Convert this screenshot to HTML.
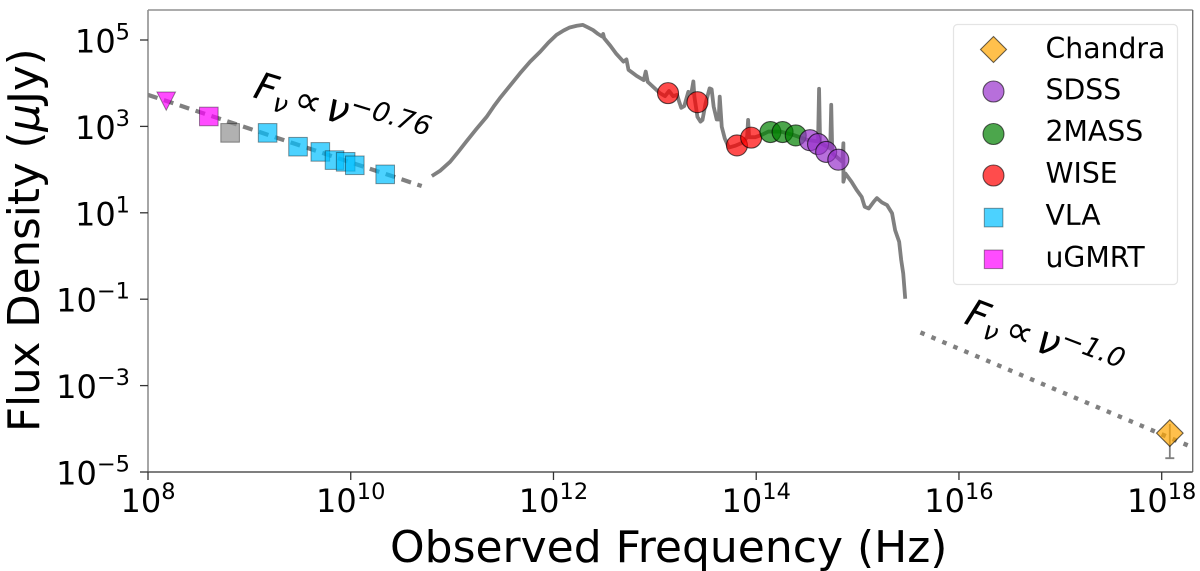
<!DOCTYPE html>
<html lang="en">
<head>
<meta charset="utf-8">
<title>Spectral energy distribution</title>
<style>
html,body{margin:0;padding:0;background:#fff;width:1200px;height:571px;overflow:hidden}
svg{display:block;font-family:"DejaVu Sans","Liberation Sans",sans-serif}
</style>
</head>
<body>
<svg id="chart" xmlns="http://www.w3.org/2000/svg" width="1200" height="571" viewBox="0 0 1200 571">
  <defs><clipPath id="plot-clip"><rect x="148" y="10" width="1044.7" height="462"/></clipPath></defs>
  <g id="series" clip-path="url(#plot-clip)"></g>
  <g id="axes"></g>

  <text transform="translate(39,432) rotate(-90)" font-size="43.5" fill="#000">Flux Density (<tspan font-style="italic">μ</tspan>Jy)</text>
  <text x="390" y="562" font-size="44" fill="#000">Observed Frequency (Hz)</text>

  <text transform="translate(252,97) rotate(17)" font-size="38" fill="#000"><tspan font-style="italic">F</tspan><tspan font-style="italic" font-size="26" dy="7">ν</tspan><tspan dy="-7" dx="5">∝</tspan><tspan dx="6" font-style="italic" font-size="40">ν</tspan><tspan font-size="27" dy="-14">−</tspan><tspan font-size="27" font-style="italic">0.76</tspan></text>
  <text transform="translate(963,323) rotate(21)" font-size="38" fill="#000"><tspan font-style="italic">F</tspan><tspan font-style="italic" font-size="26" dy="7">ν</tspan><tspan dy="-7" dx="6">∝</tspan><tspan dx="6" font-style="italic" font-size="40">ν</tspan><tspan font-size="27" dy="-14">−</tspan><tspan font-size="27" font-style="italic">1.0</tspan></text>

  <g>
    <rect x="953.5" y="24.5" width="224" height="260" rx="4" fill="#fff" fill-opacity="0.8" stroke="#e4e4e4" stroke-width="1.2"/>
    <g>
      <polygon points="993.5,36.5 1006.5,49.5 993.5,62.5 980.5,49.5" fill="#ffa500" fill-opacity="0.7" stroke="#000" stroke-opacity="0.6" stroke-width="1.1"/>
      <text x="1045.5" y="58" font-size="28.3">Chandra</text>
    </g>
    <g>
      <circle cx="993.5" cy="91.5" r="10.5" fill="#9932cc" fill-opacity="0.7" stroke="#000" stroke-opacity="0.6" stroke-width="1.1"/>
      <text x="1045.5" y="99.5" font-size="28.3">SDSS</text>
    </g>
    <g>
      <circle cx="993.5" cy="134" r="10.5" fill="#008000" fill-opacity="0.7" stroke="#000" stroke-opacity="0.6" stroke-width="1.1"/>
      <text x="1045.5" y="141" font-size="28.3">2MASS</text>
    </g>
    <g>
      <circle cx="993.5" cy="175.5" r="10.5" fill="#ff0000" fill-opacity="0.7" stroke="#000" stroke-opacity="0.6" stroke-width="1.1"/>
      <text x="1045.5" y="183" font-size="28.3">WISE</text>
    </g>
    <g>
      <rect x="984.3" y="208.3" width="18.6" height="18.6" fill="#00bfff" fill-opacity="0.7" stroke="#000" stroke-opacity="0.4" stroke-width="1"/>
      <text x="1045.5" y="225" font-size="28.3">VLA</text>
    </g>
    <g>
      <rect x="984.3" y="250" width="18.6" height="18.6" fill="#ff00ff" fill-opacity="0.7" stroke="#000" stroke-opacity="0.4" stroke-width="1"/>
      <text x="1045.5" y="267" font-size="28.3">uGMRT</text>
    </g>
  </g>
</svg>
<script>
// All frequencies are log10(Hz); all flux densities are log10(uJy).
const xTickExponents = ["8","10","12","14","16","18"];
const yTickExponents = ["5","3","1","−1","−3","−5"];
const yTickValues = [5,3,1,-1,-3,-5];
const xTickValues = [8,10,12,14,16,18];

const sedFreq = [10.80,10.88,10.98,11.06,11.14,11.24,11.34,11.41,11.47,11.57,11.67,11.77,11.87,11.95,12.03,12.10,12.16,12.23,12.29,12.34,12.39,12.44,12.48,12.49,12.50,12.56,12.62,12.69,12.72,12.74,12.82,12.89,12.91,12.93,12.99,13.05,13.10,13.14,13.18,13.22,13.24,13.26,13.29,13.33,13.36,13.38,13.39,13.42,13.45,13.47,13.50,13.54,13.56,13.58,13.61,13.63,13.64,13.66,13.69,13.73,13.79,13.86,13.91,13.92,13.93,13.99,14.05,14.12,14.24,14.37,14.50,14.61,14.62,14.63,14.73,14.74,14.75,14.85,14.86,14.86,14.88,14.94,14.99,15.04,15.07,15.11,15.16,15.19,15.24,15.29,15.34,15.37,15.41,15.43,15.45,15.47];
const sedFlux = [1.85,1.97,2.18,2.41,2.65,2.94,3.22,3.46,3.65,3.94,4.23,4.50,4.73,4.94,5.12,5.22,5.29,5.33,5.35,5.29,5.23,5.14,5.08,5.14,5.04,4.87,4.68,4.50,4.55,4.31,4.17,4.07,4.27,4.03,3.90,3.77,3.70,3.82,3.70,3.73,3.57,3.43,3.47,3.80,3.77,4.04,3.69,3.22,3.11,3.15,3.53,3.88,3.86,3.46,3.16,3.16,3.69,2.99,2.72,2.51,2.55,2.62,2.75,3.15,2.75,2.75,2.80,2.88,2.88,2.80,2.69,2.65,3.87,2.62,2.49,3.50,2.38,2.18,2.61,1.72,1.91,1.72,1.53,1.37,1.14,1.10,1.26,1.34,1.24,1.18,0.99,0.60,0.33,-0.09,-0.40,-0.99];

const radioLawFreq = [8.0,10.70];
const radioLawFlux = [3.73,1.62];
const xrayLawFreq = [15.62,18.305];
const xrayLawFlux = [-1.77,-4.43];

const limitFreq = [8.18];
const limitFlux = [3.60];
const ugmrtFreq = [8.60];
const ugmrtFlux = [3.23];
const archivalFreq = [8.81];
const archivalFlux = [2.85];
const vlaFreq = [9.18,9.48,9.70,9.84,9.95,10.04,10.34];
const vlaFlux = [2.85,2.53,2.41,2.22,2.18,2.10,1.89];
const wiseFreq = [13.13,13.42,13.81,13.95];
const wiseFlux = [3.77,3.56,2.56,2.74];
const twoMassFreq = [14.14,14.26,14.39];
const twoMassFlux = [2.87,2.87,2.79];
const sdssFreq = [14.53,14.61,14.69,14.81];
const sdssFlux = [2.68,2.59,2.41,2.23];
const chandraFreq = [18.08];
const chandraFlux = [-4.10];
const chandraErrHigh = [-3.89];
const chandraErrLow = [-4.68];

const NS = 'http://www.w3.org/2000/svg';
const xAxis = v => 148 + (v - 8) * 101.37;
const yAxis = v => 40 + (5 - v) * 43.2;
const series = document.getElementById('series');
const axes = document.getElementById('axes');

function make(tag, attrs, parent) {
  const el = document.createElementNS(NS, tag);
  for (const k in attrs) el.setAttribute(k, attrs[k]);
  parent.appendChild(el);
  return el;
}
function pathOf(xs, ys) {
  return xs.map((v, i) => (i ? 'L' : 'M') + xAxis(v).toFixed(2) + ' ' + yAxis(ys[i]).toFixed(2)).join(' ');
}

// Series lines
const sedLine = make('path', {d: pathOf(sedFreq, sedFlux), fill: 'none', stroke: '#808080', 'stroke-width': 3.8, 'stroke-linejoin': 'round'}, series);



const radioLine = make('path', {d: pathOf(radioLawFreq, radioLawFlux), fill: 'none', stroke: '#808080', 'stroke-width': 4.2, 'stroke-dasharray': '10 6.7'}, series);



const xrayLine = make('path', {d: pathOf(xrayLawFreq, xrayLawFlux), fill: 'none', stroke: '#808080', 'stroke-width': 4.4, 'stroke-dasharray': '4.5 7.4'}, series);



// Markers
function squareMarkers(xs, ys, color, opacity, edgeOpacity, name) {
  xs.forEach((v, i) => {
    const el = make('rect', {x: xAxis(v) - 9.3, y: yAxis(ys[i]) - 9.3, width: 18.6, height: 18.6, fill: color, 'fill-opacity': opacity, stroke: '#000', 'stroke-opacity': edgeOpacity, 'stroke-width': 1}, series);
    
    
  });
}
function circleMarkers(xs, ys, color, name) {
  xs.forEach((v, i) => {
    const el = make('circle', {cx: xAxis(v), cy: yAxis(ys[i]), r: 10.5, fill: color, 'fill-opacity': 0.7, stroke: '#000', 'stroke-opacity': 0.65, 'stroke-width': 1.1}, series);
    
    
  });
}
limitFreq.forEach((v, i) => {
  const cx = xAxis(v), cy = yAxis(limitFlux[i]);
  const el = make('polygon', {points: `${cx - 9.3},${cy - 8.5} ${cx + 9.3},${cy - 8.5} ${cx},${cy + 9.8}`, fill: '#ff00ff', 'fill-opacity': 0.7, stroke: '#000', 'stroke-opacity': 0.4, 'stroke-width': 1}, series);
  
  
});
squareMarkers(ugmrtFreq, ugmrtFlux, '#ff00ff', 0.7, 0.4, 'ugmrt-point');
squareMarkers(archivalFreq, archivalFlux, '#909090', 0.7, 0.4, 'archival-radio-point');
squareMarkers(vlaFreq, vlaFlux, '#00bfff', 0.7, 0.4, 'vla-point');
circleMarkers(wiseFreq, wiseFlux, '#ff0000', 'wise-point');
circleMarkers(twoMassFreq, twoMassFlux, '#008000', '2mass-point');
circleMarkers(sdssFreq, sdssFlux, '#9932cc', 'sdss-point');

chandraFreq.forEach((v, i) => {
  const cx = xAxis(v), cy = yAxis(chandraFlux[i]), top = yAxis(chandraErrHigh[i]), low = yAxis(chandraErrLow[i]);
  const err = make('path', {d: `M${cx} ${top} L${cx} ${low} M${cx - 4.5} ${low} L${cx + 4.5} ${low}`, fill: 'none', stroke: '#808080', 'stroke-width': 1.8}, series);
  
  
  const el = make('polygon', {points: `${cx},${cy - 13.3} ${cx + 13.3},${cy} ${cx},${cy + 13.3} ${cx - 13.3},${cy}`, fill: '#ffa500', 'fill-opacity': 0.7, stroke: '#000', 'stroke-opacity': 0.6, 'stroke-width': 1.1}, series);
  
  
});

// Spines
const spineSpecs = [
  ['left-spine', 148, 10, 148, 472, '#808080'],
  ['top-spine', 148, 10, 1192.7, 10, '#909090'],
  ['right-spine', 1192.7, 10, 1192.7, 472, '#707070'],
  ['bottom-spine', 148, 472, 1192.7, 472, '#555555']
];
spineSpecs.forEach(s => {
  const el = make('line', {x1: s[1], y1: s[2], x2: s[3], y2: s[4], stroke: s[5], 'stroke-width': 1.4}, axes);
  
  
});

// Ticks and labels
function powerLabel(x, y, exponent, anchor, name) {
  const t = make('text', {x: x, y: y, 'text-anchor': anchor, 'font-size': 32, fill: '#000'}, axes);
  
  
  const base = make('tspan', {}, t);
  base.textContent = '10';
  const sup = make('tspan', {'font-size': 22.5, dy: -13}, t);
  sup.textContent = exponent;
}
xTickValues.forEach((v, i) => {
  const px = xAxis(v);
  const tick = make('line', {x1: px, y1: 472, x2: px, y2: 480, stroke: '#333', 'stroke-width': 1.3}, axes);
  
  
  powerLabel(px, 512, xTickExponents[i], 'middle', 'x-tick-label');
});
yTickValues.forEach((v, i) => {
  const py = yAxis(v);
  const tick = make('line', {x1: 140, y1: py, x2: 148, y2: py, stroke: '#333', 'stroke-width': 1.3}, axes);
  
  
  powerLabel(130, py + 12.5, yTickExponents[i], 'end', 'y-tick-label');
});
</script>
</body>
</html>
